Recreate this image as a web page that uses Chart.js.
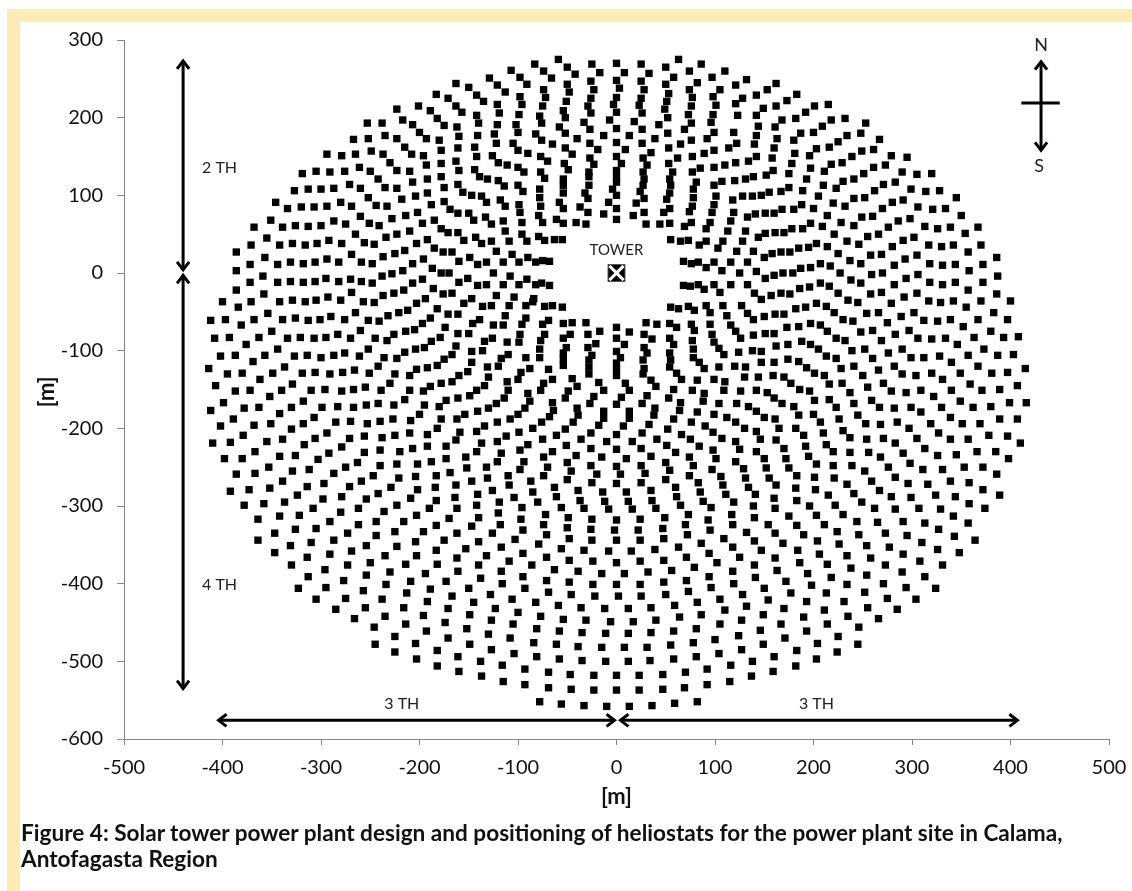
<!DOCTYPE html>
<html>
<head>
<meta charset="utf-8">
<title>Heliostat field</title>
<script src="https://cdn.jsdelivr.net/npm/chart.js@4/dist/chart.umd.min.js"></script>
<style>
  html, body { margin: 0; padding: 0; background: #fff; overflow: hidden; }
  #page { position: relative; width: 1132px; height: 891px; font-family: Lato, sans-serif; }
  .band { position: absolute; background: #ffebb5; }
  #top { left: 7px; top: 9px; width: 1125px; height: 13px; }
  #left { left: 7px; top: 9px; width: 13px; height: 882px; }
  canvas { position: absolute; left: 0; top: 0; }
  #caption { position: absolute; left: 21px; top: 820px; font-weight: 700; font-size: 22.6px; line-height: 26px; color: #111; white-space: nowrap; }
</style>
</head>
<body>
<div id="page">
  <div class="band" id="top"></div>
  <div class="band" id="left"></div>
  <canvas id="field" width="1132" height="891"></canvas>
  <div id="caption">Figure 4: Solar tower power plant design and positioning of heliostats for the power plant site in Calama,<br>Antofagasta Region</div>
</div>
<script>
// heliostat positions in metres, [x, y]
const fieldNorth = [[-59,275],[63,275],[-83,269],[-25,269],[0,270],[25,269],[50,265],[86,269],[-50,265],[-74,260],[-107,261],[-17,258],[8,258],[33,257],[74,260],[110,260],[-42,256],[-98,252],[-66,251],[-129,251],[58,252],[97,252],[-26,247],[0,248],[25,247],[-50,243],[50,243],[82,245],[-91,243],[-121,242],[-163,244],[121,242],[-150,239],[-74,236],[-23,236],[3,238],[28,236],[74,236],[105,236],[-113,233],[-48,233],[53,231],[-183,230],[-142,229],[-98,227],[-72,226],[-26,225],[0,226],[25,225],[77,226],[98,227],[-171,225],[-135,221],[-51,221],[51,221],[121,218],[-121,217],[-96,217],[-3,217],[23,216],[101,216],[76,215],[-201,215],[-163,215],[-75,215],[-29,215],[-189,209],[-157,207],[-119,206],[-99,204],[-54,209],[49,211],[-26,206],[0,207],[26,206],[73,204],[98,204],[123,203],[-142,203],[-78,202],[-52,200],[52,200],[-182,199],[-217,197],[-140,193],[-76,193],[-33,194],[-7,197],[18,195],[76,193],[96,194],[-207,191],[-175,190],[-121,191],[-102,191],[43,191],[-162,188],[-58,188],[-27,185],[0,186],[26,185],[69,185],[-200,181],[-100,181],[-52,180],[52,180],[99,181],[119,181],[-160,176],[-141,177],[-124,179],[-82,179],[-13,177],[13,177],[92,173],[-193,173],[-40,173],[39,173],[-76,171],[76,171],[-180,171],[-122,167],[-105,167],[-65,166],[-27,167],[0,168],[26,167],[65,166],[122,167],[-215,162],[-161,161],[-144,162],[-178,158],[-100,158],[-52,161],[-19,159],[9,159],[53,161],[99,158],[114,161],[-90,154],[-45,153],[35,155],[89,154],[-208,153],[-196,151],[-142,150],[-126,151],[-77,150],[77,150],[-27,148],[0,150],[27,148],[62,148],[-163,144],[-178,141],[-120,142],[-70,144],[-53,141],[-23,140],[5,141],[31,139],[53,141],[121,142],[-193,139],[-111,139],[-100,136],[110,139],[99,136],[85,135],[-144,133],[-160,132],[-210,131],[-77,130],[-49,133],[-94,130],[-28,130],[0,132],[27,130],[57,130],[77,130],[-178,124],[-139,124],[-192,121],[-131,121],[-120,119],[-73,122],[-54,121],[-28,124],[0,124],[28,121],[54,121],[107,118],[120,119],[-207,117],[-161,114],[-100,113],[-54,113],[-28,113],[0,117],[27,113],[55,113],[81,117],[99,113],[-175,110],[-114,112],[-4,108],[78,108],[-78,108],[-95,105],[-156,104],[24,105],[-32,103],[-54,103],[0,100],[54,103],[-192,103],[-147,100],[-137,99],[-204,99],[-218,95],[-78,97],[-29,96],[28,96],[51,95],[78,97],[101,99],[118,94],[-118,94],[-132,91],[-175,92],[-58,91],[-8,91],[20,90],[99,88],[-188,88],[-99,88],[-77,86],[-113,86],[-54,83],[0,83],[54,83],[77,86],[-169,82],[-37,85],[74,79],[-98,78],[-150,77],[-161,77],[-202,78],[-214,74],[-29,78],[28,78],[97,78],[119,78],[-79,74],[-133,72],[-13,76],[17,74],[48,78],[-185,68],[-61,69],[0,69],[-145,68],[-115,67],[-96,65],[-75,65],[-41,65],[-54,64],[-31,63],[30,63],[44,63],[54,64],[76,65],[95,65],[116,67],[-197,64],[-127,63],[69,60],[-178,57],[91,57],[-171,52],[-161,52],[-113,54],[-210,54],[113,54],[-96,50],[-79,47],[-143,46],[-63,43],[-73,42],[-55,43],[-155,42],[-192,43],[-127,41],[-109,41],[-91,41],[55,43],[65,41],[73,42],[91,41],[108,41],[-137,38],[-203,38],[84,36],[-185,32],[103,32],[-215,29],[-176,27],[-167,27],[-122,28],[122,28],[-106,24],[-149,20],[-90,20],[-196,18],[-75,16],[-68,15],[-82,14],[-160,15],[-141,11],[-132,14],[-115,14],[-99,14],[-207,12],[68,15],[76,12],[83,14],[99,14],[91,7],[116,14],[107,3],[-187,6],[-217,3],[-178,0],[-170,0],[-125,0],[-108,-4],[-151,-7],[-91,-8],[-197,-8],[-160,-12],[-207,-13],[-141,-16],[-132,-15],[-115,-15],[-99,-15],[-82,-15],[-76,-13],[-68,-16],[68,-16],[75,-17],[83,-15],[99,-15],[116,-15],[89,-21],[105,-25],[-186,-20],[-216,-22],[-176,-27],[-167,-26],[-122,-29],[-194,-33],[-147,-33],[-104,-31],[-84,-33]];

const fieldNorthWest = [[-223,211],[-253,193],[-238,193],[-267,172],[-252,173],[-235,177],[-223,173],[-294,153],[-279,151],[-265,153],[-249,157],[-237,153],[-230,142],[-319,128],[-305,131],[-291,130],[-276,131],[-261,136],[-250,131],[-223,132],[-242,121],[-327,106],[-313,108],[-300,108],[-287,109],[-271,114],[-260,109],[-235,110],[-223,109],[-252,97],[-346,91],[-334,83],[-320,85],[-307,85],[-294,86],[-280,91],[-269,86],[-244,87],[-233,86],[-260,73],[-228,70],[-351,68],[-368,59],[-339,59],[-326,61],[-313,60],[-300,61],[-287,67],[-275,63],[-251,64],[-241,61],[-265,50],[-223,50],[-355,45],[-234,46],[-371,36],[-342,36],[-329,38],[-316,36],[-304,38],[-292,42],[-279,38],[-256,39],[-246,37],[-386,27],[-269,24],[-225,25],[-357,20],[-237,21],[-372,11],[-344,11],[-331,14],[-318,12],[-306,14],[-294,18],[-282,14],[-259,14],[-248,12],[-386,3],[-270,-8],[-359,-4],[-295,-7],[-238,-4],[-228,-1],[-372,-12],[-344,-12],[-331,-11],[-318,-12],[-306,-11],[-282,-11],[-259,-11],[-248,-13]];

const fieldNorthEast = [[132,249],[162,244],[153,236],[128,225],[142,229],[173,222],[183,230],[149,212],[162,215],[201,215],[215,217],[142,203],[192,207],[168,197],[182,199],[218,197],[232,199],[144,189],[161,188],[253,193],[209,189],[200,181],[187,180],[142,177],[248,180],[234,177],[180,171],[163,173],[267,172],[225,169],[140,166],[160,161],[216,162],[203,160],[181,154],[261,159],[249,157],[239,150],[196,151],[142,150],[134,144],[279,151],[295,149],[158,148],[178,141],[229,142],[218,140],[273,139],[261,136],[197,135],[159,132],[211,131],[251,128],[290,130],[305,127],[320,128],[139,124],[152,126],[131,121],[175,128],[241,121],[230,118],[193,121],[271,114],[283,117],[210,113],[223,109],[175,110],[167,105],[155,104],[147,100],[138,99],[128,99],[299,108],[314,105],[328,106],[189,106],[262,106],[205,99],[241,96],[252,97],[345,97],[280,91],[291,94],[220,90],[188,88],[232,86],[168,82],[180,82],[200,83],[270,83],[306,85],[321,82],[334,83],[160,77],[151,77],[141,76],[133,72],[214,74],[350,74],[249,72],[260,73],[298,70],[286,67],[228,65],[197,64],[178,57],[189,57],[241,61],[209,60],[313,60],[326,57],[339,59],[276,59],[367,59],[131,54],[151,51],[161,52],[170,52],[144,46],[221,50],[255,47],[266,50],[354,51],[291,42],[302,46],[128,41],[234,41],[203,38],[195,33],[185,32],[214,34],[246,37],[280,34],[317,36],[330,34],[342,36],[370,36],[139,28],[158,25],[167,27],[176,27],[150,20],[225,25],[357,27],[258,23],[269,24],[305,23],[386,20],[293,18],[237,16],[248,12],[318,12],[331,10],[344,11],[372,11],[133,14],[207,12],[187,6],[197,7],[282,10],[217,9],[125,0],[142,2],[169,0],[179,0],[160,-3],[151,-7],[227,0],[358,3],[259,-2],[270,0],[306,-2],[294,-7],[387,-4],[238,-9],[248,-13],[318,-12],[331,-15],[344,-12],[372,-12],[133,-15],[207,-13],[216,-17],[186,-20],[196,-18],[282,-15]];

const fieldEast = [[140,-26],[167,-26],[157,-29],[176,-27],[225,-26],[258,-27],[269,-25],[305,-26],[357,-22],[386,-27],[292,-31],[235,-35],[147,-34],[245,-38],[279,-39],[317,-36],[329,-38],[342,-36],[370,-36],[400,-36],[182,-46],[192,-44],[203,-39],[213,-43],[355,-44],[221,-51],[254,-52],[266,-51],[302,-51],[383,-51],[150,-56],[161,-53],[170,-53],[289,-56],[139,-60],[230,-60],[240,-62],[275,-64],[312,-61],[326,-62],[339,-60],[367,-60],[397,-60],[173,-70],[185,-69],[197,-65],[207,-67],[352,-69],[214,-75],[248,-76],[260,-74],[297,-74],[380,-75],[283,-79],[151,-78],[160,-78],[139,-80],[223,-84],[232,-87],[306,-84],[320,-85],[334,-84],[363,-83],[393,-83],[408,-82],[269,-87],[188,-88],[197,-92],[162,-94],[174,-92],[346,-92],[205,-98],[239,-100],[252,-98],[290,-98],[373,-98],[138,-100],[147,-101],[276,-103],[213,-107],[223,-110],[260,-110],[299,-109],[312,-109],[328,-107],[357,-106],[387,-106],[403,-105],[174,-111],[185,-114],[147,-115],[160,-115],[340,-115],[193,-122],[228,-123],[241,-120],[282,-120],[367,-120],[415,-123],[266,-125],[201,-129],[211,-132],[159,-132],[144,-134],[170,-134],[290,-130],[304,-132],[320,-129],[349,-129],[381,-129],[397,-128],[250,-132],[331,-137],[177,-142],[216,-143],[229,-142],[271,-142],[359,-143],[407,-145],[186,-150],[196,-152],[142,-151],[153,-154],[255,-147],[279,-152],[294,-154],[309,-151],[340,-151],[371,-151],[389,-150],[237,-154],[322,-159],[160,-161],[201,-164],[216,-163],[259,-164],[349,-165],[399,-167],[416,-167],[168,-168],[241,-168],[180,-172],[223,-173],[267,-173],[282,-174],[299,-173],[330,-173],[362,-173],[380,-172],[142,-178],[309,-179],[185,-183],[200,-182],[245,-183],[150,-186],[161,-188],[226,-188],[339,-186],[389,-188],[407,-188],[207,-192],[253,-194],[268,-195],[285,-192],[319,-194],[351,-194],[369,-194],[165,-200],[182,-200],[297,-200],[230,-203],[142,-204],[210,-206],[190,-209],[327,-206],[378,-209],[397,-210],[146,-214],[162,-215],[237,-212],[254,-214],[271,-213],[305,-213],[339,-214],[357,-214],[410,-219],[192,-223],[213,-221],[283,-219],[170,-226],[142,-230],[220,-230],[237,-231],[256,-231],[291,-232],[313,-226],[366,-230],[385,-230],[326,-235],[345,-234],[150,-239],[172,-239],[195,-236],[268,-237],[398,-239],[203,-246],[220,-248],[239,-248],[298,-245],[152,-251],[175,-251],[276,-250],[353,-250],[372,-250],[311,-253],[331,-253],[252,-255],[183,-261],[201,-263],[221,-264],[283,-263],[386,-259],[155,-264],[259,-268],[339,-268],[358,-270],[296,-271],[316,-272],[234,-272],[162,-273],[182,-277],[202,-279],[267,-280],[372,-279],[141,-285],[241,-284],[215,-286],[279,-288],[299,-289],[324,-286],[344,-288],[389,-286],[160,-290],[183,-293],[249,-295],[358,-297],[139,-300],[161,-303],[196,-300],[222,-299],[262,-303],[283,-304],[307,-303],[329,-304],[374,-303],[364,-344]];

const fieldCentre = [[-136,-43],[-127,-42],[-109,-42],[-92,-42],[-85,-37],[-73,-43],[-65,-42],[-55,-44],[55,-44],[63,-46],[73,-43],[79,-48],[91,-42],[95,-51],[108,-42],[127,-42],[-113,-55],[133,-52],[112,-55],[-92,-58],[-69,-61],[-96,-66],[-75,-66],[-54,-65],[-45,-64],[-31,-64],[-125,-67],[-115,-67],[0,-70],[30,-64],[41,-66],[54,-65],[61,-70],[76,-66],[95,-66],[116,-67],[-139,-60],[79,-74],[121,-75],[-17,-75],[13,-76],[-98,-79],[-73,-79],[-47,-79],[-29,-79],[28,-79],[97,-79],[-126,-84],[-54,-84],[-77,-87],[0,-84],[36,-85],[54,-84],[77,-87],[126,-84],[-134,-88],[-111,-89],[-99,-89],[-21,-91],[8,-92],[58,-92],[99,-89],[-136,-100],[-78,-98],[-51,-96],[-29,-96],[28,-96],[78,-98],[104,-97],[124,-102],[-110,-105],[-25,-106],[31,-103],[54,-103],[109,-105],[-117,-110],[-92,-109],[-78,-109],[-54,-103],[-54,-111],[-54,-119],[-28,-112],[4,-109],[0,-101],[27,-112],[55,-112],[78,-109],[84,-115],[-131,-121],[-120,-120],[-88,-123],[-69,-124],[0,-116],[0,-124],[0,-132],[-28,-121],[-28,-130],[28,-123],[27,-130],[54,-121],[89,-123],[104,-121],[120,-120],[131,-121],[-97,-128],[61,-129],[66,-137],[-100,-137],[-130,-134],[-65,-137],[-45,-136],[130,-134],[99,-137],[82,-138],[110,-140],[-111,-140],[-18,-141],[9,-142],[35,-138],[-134,-145],[-74,-142],[-40,-146],[40,-146],[58,-150],[77,-151],[109,-151],[126,-152],[-110,-151],[-77,-151],[-13,-151],[13,-151],[-49,-152],[89,-155],[-90,-155],[31,-158],[-23,-159],[5,-160],[-52,-161],[-114,-161],[53,-161],[65,-167],[88,-165],[104,-168],[122,-168],[-88,-165],[-122,-168],[-65,-167],[-27,-168],[0,-169],[26,-168],[134,-172],[-130,-174],[-93,-174],[-40,-174],[39,-174],[-64,-177],[64,-177],[82,-179],[-13,-178],[13,-178],[-100,-182],[-39,-183],[-13,-187],[13,-187],[38,-183],[99,-182],[112,-186],[-108,-188],[-68,-185],[58,-188],[-76,-192],[-44,-192],[76,-192],[121,-192],[-121,-192],[-134,-197],[-18,-196],[7,-197],[33,-195],[-85,-200],[-52,-201],[90,-197],[130,-200],[52,-201],[-99,-205],[-26,-206],[26,-206],[98,-205],[-61,-209],[-112,-210],[0,-208],[66,-208],[-75,-214],[-36,-214],[41,-214],[75,-214],[107,-213],[-10,-217],[16,-217],[-121,-217],[121,-217],[-137,-219],[-51,-222],[-90,-221],[51,-222],[84,-223],[-26,-226],[25,-226],[0,-227],[-98,-228],[-65,-230],[98,-228],[125,-227],[60,-231],[-117,-232],[-41,-235],[-74,-237],[35,-236],[74,-237],[-15,-237],[101,-239],[10,-239],[-94,-243],[-121,-243],[-50,-244],[50,-244],[121,-243],[-132,-250],[-70,-250],[-26,-248],[0,-249],[25,-248],[78,-248],[-98,-253],[97,-253],[129,-252],[-46,-255],[54,-254],[-20,-259],[4,-259],[29,-258],[-110,-261],[-74,-261],[74,-261],[106,-262],[-131,-264],[-50,-266],[50,-266],[131,-264],[-87,-268],[-25,-270],[0,-271],[25,-270],[83,-270],[-109,-273],[60,-276],[108,-273],[134,-276],[-126,-280],[-63,-276],[-39,-280],[-85,-282],[-14,-282],[10,-282],[35,-280],[85,-282],[111,-285],[61,-288],[-61,-288],[-104,-289],[-37,-293],[-12,-294],[12,-294],[36,-293],[88,-294],[-119,-295],[-80,-295],[119,-295],[65,-299],[-56,-302],[-96,-302],[96,-302],[-33,-303],[-8,-304],[16,-304],[40,-303]];

const fieldWest = [[-386,-22],[-358,-27],[-269,-25],[-237,-29],[-226,-26],[-400,-37],[-371,-37],[-342,-37],[-329,-35],[-316,-37],[-305,-35],[-293,-31],[-280,-35],[-257,-37],[-246,-38],[-384,-44],[-203,-39],[-182,-46],[-155,-39],[-354,-52],[-265,-51],[-232,-55],[-221,-51],[-212,-48],[-189,-58],[-171,-53],[-161,-53],[-412,-61],[-397,-60],[-368,-60],[-339,-60],[-326,-58],[-313,-61],[-301,-60],[-290,-56],[-276,-60],[-252,-61],[-241,-62],[-197,-65],[-146,-65],[-381,-67],[-350,-75],[-260,-74],[-174,-70],[-226,-79],[-214,-75],[-205,-73],[-408,-84],[-393,-83],[-363,-83],[-334,-84],[-321,-83],[-307,-84],[-295,-83],[-283,-79],[-270,-84],[-245,-84],[-233,-87],[-188,-88],[-179,-83],[-161,-78],[-150,-78],[-376,-92],[-163,-94],[-252,-98],[-344,-98],[-215,-102],[-204,-98],[-195,-96],[-147,-101],[-402,-107],[-387,-106],[-357,-106],[-327,-107],[-314,-106],[-300,-109],[-287,-106],[-276,-103],[-261,-107],[-236,-109],[-223,-110],[-167,-105],[-175,-111],[-369,-114],[-147,-115],[-242,-120],[-337,-121],[-414,-123],[-203,-124],[-192,-122],[-182,-119],[-395,-130],[-380,-129],[-349,-129],[-319,-129],[-306,-128],[-291,-130],[-278,-128],[-266,-125],[-251,-129],[-225,-130],[-210,-132],[-160,-132],[-151,-127],[-362,-137],[-230,-142],[-329,-143],[-407,-145],[-189,-146],[-178,-142],[-167,-140],[-387,-152],[-372,-151],[-340,-151],[-310,-151],[-296,-150],[-279,-152],[-267,-150],[-255,-147],[-239,-151],[-210,-151],[-196,-152],[-142,-151],[-352,-159],[-149,-158],[-318,-165],[-215,-163],[-161,-161],[-173,-164],[-399,-167],[-378,-174],[-363,-173],[-330,-173],[-299,-173],[-283,-172],[-267,-173],[-254,-170],[-242,-168],[-226,-170],[-195,-170],[-180,-172],[-412,-177],[-342,-181],[-141,-178],[-200,-182],[-154,-182],[-307,-186],[-389,-188],[-318,-194],[-178,-188],[-162,-188],[-209,-190],[-227,-188],[-240,-191],[-270,-191],[-285,-192],[-253,-194],[-368,-196],[-351,-194],[-402,-197],[-330,-201],[-182,-200],[-379,-209],[-294,-206],[-306,-213],[-339,-214],[-159,-205],[-142,-204],[-256,-210],[-238,-212],[-225,-209],[-210,-206],[-192,-208],[-271,-213],[-410,-219],[-392,-218],[-355,-217],[-317,-221],[-279,-224],[-163,-215],[-367,-230],[-207,-226],[-192,-223],[-173,-223],[-220,-230],[-240,-228],[-256,-231],[-292,-232],[-342,-236],[-326,-235],[-142,-230],[-398,-239],[-380,-239],[-303,-240],[-263,-244],[-153,-237],[-173,-239],[-188,-243],[-240,-248],[-223,-246],[-202,-246],[-275,-250],[-353,-250],[-152,-251],[-386,-259],[-367,-258],[-329,-255],[-312,-253],[-287,-258],[-247,-261],[-169,-257],[-183,-261],[-204,-262],[-221,-264],[-339,-268],[-259,-268],[-297,-271],[-147,-268],[-392,-281],[-373,-279],[-352,-277],[-314,-275],[-271,-275],[-229,-276],[-202,-279],[-184,-276],[-163,-273],[-324,-286],[-242,-284],[-279,-288],[-141,-285],[-298,-291],[-254,-291],[-209,-290],[-183,-293],[-164,-289],[-378,-299],[-358,-297],[-337,-295],[-223,-299],[-142,-299],[-308,-303],[-262,-303],[-190,-303],[-162,-303],[-364,-317],[-364,-344]];

const fieldSouthWest = [[-280,-308],[-236,-307],[-342,-313],[-322,-312],[-203,-312],[-170,-316],[-140,-315],[-120,-309],[-97,-317],[-72,-311],[-291,-320],[-244,-320],[-216,-320],[-262,-324],[-183,-325],[-147,-326],[-118,-324],[-74,-324],[-326,-330],[-305,-329],[-95,-331],[-347,-335],[-273,-335],[-225,-333],[-196,-333],[-162,-335],[-126,-335],[-71,-337],[-244,-338],[-287,-344],[-175,-344],[-103,-343],[-310,-347],[-204,-346],[-140,-346],[-79,-349],[-331,-351],[-254,-351],[-223,-352],[-117,-353],[-153,-355],[-183,-357],[-347,-360],[-269,-358],[-95,-361],[-235,-364],[-203,-364],[-132,-364],[-314,-366],[-291,-362],[-162,-367],[-71,-366],[-250,-373],[-109,-371],[-330,-376],[-273,-376],[-214,-375],[-182,-375],[-140,-376],[-86,-376],[-296,-382],[-230,-385],[-161,-384],[-117,-384],[-194,-387],[-254,-389],[-313,-391],[-138,-393],[-95,-391],[-173,-397],[-277,-396],[-209,-397],[-116,-400],[-71,-396],[-234,-401],[-323,-406],[-295,-405],[-257,-409],[-189,-407],[-150,-406],[-93,-406],[-213,-412],[-69,-411],[-128,-414],[-167,-416],[-305,-420],[-275,-419],[-238,-420],[-192,-423],[-145,-424],[-106,-420],[-82,-424],[-285,-433],[-255,-431],[-216,-431],[-171,-432],[-123,-432],[-266,-445],[-235,-442],[-196,-441],[-149,-440],[-100,-437],[-77,-442],[-246,-456],[-214,-452],[-127,-447],[-174,-450],[-105,-452],[-81,-458],[-152,-458],[-193,-461],[-225,-468],[-130,-465],[-171,-470],[-108,-470],[-245,-478],[-204,-477],[-149,-478],[-84,-476],[-182,-486],[-127,-485],[-225,-488],[-104,-490],[-203,-497],[-161,-494],[-81,-494],[-138,-500],[-182,-506],[-116,-505],[-160,-513],[-93,-510],[-137,-519],[-69,-514],[-115,-526],[-93,-530],[-69,-534],[-78,-552]];

const fieldSouth = [[-49,-315],[-25,-317],[0,-318],[24,-317],[49,-315],[73,-311],[93,-318],[117,-311],[140,-315],[175,-313],[203,-312],[230,-311],[244,-320],[265,-321],[291,-320],[313,-322],[342,-313],[357,-322],[-50,-328],[-26,-330],[-2,-331],[22,-331],[47,-329],[70,-324],[118,-324],[95,-331],[154,-324],[183,-325],[211,-324],[327,-330],[132,-334],[161,-335],[190,-337],[224,-333],[246,-337],[273,-335],[295,-338],[343,-339],[-48,-342],[-25,-344],[0,-344],[24,-344],[48,-342],[72,-337],[109,-342],[140,-345],[204,-345],[310,-347],[-56,-355],[-33,-357],[-8,-358],[15,-358],[39,-356],[63,-353],[86,-348],[118,-353],[169,-348],[226,-349],[254,-351],[277,-353],[326,-356],[348,-360],[94,-361],[147,-357],[184,-357],[206,-362],[234,-364],[291,-362],[-48,-370],[-24,-371],[0,-373],[24,-371],[48,-370],[71,-366],[125,-366],[161,-367],[258,-367],[308,-371],[102,-373],[186,-373],[214,-375],[140,-376],[238,-380],[273,-376],[331,-376],[-63,-382],[-39,-384],[-15,-387],[8,-387],[32,-385],[56,-383],[79,-379],[118,-384],[163,-383],[194,-387],[290,-385],[94,-391],[141,-392],[218,-392],[254,-389],[313,-391],[-48,-398],[-24,-401],[0,-401],[24,-401],[48,-398],[71,-396],[119,-400],[172,-397],[198,-402],[234,-401],[271,-400],[324,-406],[294,-405],[-46,-414],[-22,-416],[2,-416],[25,-416],[50,-414],[73,-410],[96,-405],[150,-406],[128,-414],[177,-412],[213,-412],[252,-411],[105,-420],[82,-424],[154,-421],[193,-423],[231,-423],[275,-419],[304,-420],[-59,-428],[-36,-431],[-12,-432],[12,-432],[35,-431],[59,-428],[132,-429],[170,-432],[211,-434],[255,-431],[285,-433],[110,-434],[86,-440],[149,-440],[190,-443],[235,-442],[266,-445],[-54,-446],[-31,-447],[-6,-449],[17,-449],[40,-447],[64,-443],[127,-447],[105,-452],[167,-452],[214,-452],[246,-456],[-58,-461],[-35,-463],[-11,-464],[12,-464],[35,-463],[58,-461],[81,-458],[146,-460],[193,-461],[124,-467],[100,-472],[171,-470],[225,-468],[245,-478],[-61,-478],[-39,-481],[-15,-482],[8,-482],[31,-482],[55,-479],[78,-476],[149,-478],[204,-477],[104,-490],[127,-485],[183,-486],[224,-488],[-58,-497],[-35,-499],[-11,-500],[12,-500],[34,-499],[58,-497],[81,-494],[160,-494],[203,-497],[116,-505],[138,-500],[182,-506],[92,-510],[159,-513],[-47,-517],[-23,-518],[0,-518],[23,-518],[47,-517],[70,-514],[137,-519],[115,-526],[92,-530],[-46,-536],[-23,-537],[0,-537],[23,-537],[47,-536],[69,-534],[-56,-555],[-33,-557],[-10,-558],[13,-558],[36,-557],[59,-554],[82,-552]];

const towerPoint = [[0, 0]];
const xTicks = [-500, -400, -300, -200, -100, 0, 100, 200, 300, 400, 500];
const yTicks = [300, 200, 100, 0, -100, -200, -300, -400, -500, -600];

// dimension arrows and compass, [x1, y1, x2, y2, head at start, head at end]
const arrows = [
    [-440, 273, -440, 4, true, true],
    [-440, -3, -440, -535, true, true],
    [-404, -576, -2, -576, true, true],
    [4, -576, 407, -576, true, true],
    [431, 272, 431, 158, true, true],
    [411, 219, 450, 219, false, false]
];
const notes = [
    ['2 TH', -403, 136, 16], ['4 TH', -403, -402, 16], ['3 TH', -218, -555, 16], ['3 TH', 203, -555, 16],
    ['TOWER', 0, 29, 15], ['N', 431, 293, 18], ['S', 429, 138, 18]
];
const axisTitles = { x: '[m]', y: '[m]' };

const allField = [fieldNorth, fieldNorthWest, fieldNorthEast, fieldEast, fieldCentre, fieldWest, fieldSouthWest, fieldSouth].flat();

const sketchPlugin = {
    id: 'sketch',
    afterDatasetsDraw(chart) {
        const { ctx, scales: { x, y } } = chart;
        ctx.save();
        ctx.strokeStyle = '#000';
        ctx.lineCap = 'butt';
        ctx.lineJoin = 'miter';
        arrows.forEach(a => {
            const x1 = x.getPixelForValue(a[0]), y1 = y.getPixelForValue(a[1]);
            const x2 = x.getPixelForValue(a[2]), y2 = y.getPixelForValue(a[3]);
            ctx.lineWidth = 3;
            ctx.beginPath(); ctx.moveTo(x1, y1); ctx.lineTo(x2, y2); ctx.stroke();
            const ang = Math.atan2(y2 - y1, x2 - x1);
            const head = (px, py, dir) => {
                ctx.beginPath();
                ctx.moveTo(px - 10 * Math.cos(dir - 0.65), py - 10 * Math.sin(dir - 0.65));
                ctx.lineTo(px, py);
                ctx.lineTo(px - 10 * Math.cos(dir + 0.65), py - 10 * Math.sin(dir + 0.65));
                ctx.stroke();
            };
            if (a[4]) head(x1, y1, ang + Math.PI);
            if (a[5]) head(x2, y2, ang);
        });

        ctx.fillStyle = '#222';
        ctx.textAlign = 'center';
        ctx.textBaseline = 'middle';
        notes.forEach(n => {
            ctx.font = n[3] + 'px Lato';
            ctx.fillText(n[0], x.getPixelForValue(n[1]), y.getPixelForValue(n[2]));
        });

        ctx.fillStyle = '#111';
        ctx.font = 'bold 22px Lato';
        ctx.fillText(axisTitles.x, x.getPixelForValue(0), 797);
        ctx.translate(47, y.getPixelForValue(-153));
        ctx.rotate(-Math.PI / 2);
        ctx.fillText(axisTitles.y, 0, 0);
        ctx.restore();
    }
};

new Chart(document.getElementById('field'), {
    type: 'scatter',
    plugins: [sketchPlugin],
    data: {
        datasets: [
            {
                label: 'Tower cross',
                order: 0,
                data: towerPoint.map(p => ({ x: p[0], y: p[1] })),
                pointStyle: 'crossRot',
                pointRadius: 10,
                pointBorderColor: '#fff',
                pointBorderWidth: 3
            },
            {
                label: 'Tower',
                order: 1,
                data: towerPoint.map(p => ({ x: p[0], y: p[1] })),
                pointStyle: 'rect',
                pointRadius: 12,
                pointBackgroundColor: '#000',
                pointBorderColor: '#555',
                pointBorderWidth: 1
            },
            {
                label: 'Heliostats',
                order: 2,
                data: allField.map(p => ({ x: p[0], y: p[1] })),
                pointStyle: 'rect',
                pointRadius: 5.2,
                pointHoverRadius: 5.2,
                pointBackgroundColor: '#000',
                pointBorderWidth: 0
            }
        ]
    },
    options: {
        responsive: false,
        animation: false,
        layout: { autoPadding: false, padding: { left: 0, top: 40, right: 23, bottom: 0 } },
        plugins: { legend: { display: false }, tooltip: { enabled: false } },
        scales: {
            x: {
                type: 'linear',
                min: -500,
                max: 500,
                afterFit(scale) {
                    // last tick label hangs past the axis, keep the plot width fixed anyway
                    scale.height = 152;
                    scale.paddingLeft = 0;
                    scale.paddingRight = 0;
                    scale._margins.left = 0;
                    scale._margins.right = 0;
                },
                afterBuildTicks(scale) { scale.ticks = xTicks.map(v => ({ value: v })); },
                grid: { drawOnChartArea: false, drawTicks: true, tickLength: 6, color: '#868686' },
                border: { color: '#868686' },
                ticks: { color: '#111', font: { family: 'Lato', size: 20 }, padding: 11, maxRotation: 0, autoSkip: false }
            },
            y: {
                type: 'linear',
                min: -600,
                max: 300,
                afterFit(scale) { scale.width = 124; },
                afterBuildTicks(scale) { scale.ticks = yTicks.map(v => ({ value: v })); },
                grid: { drawOnChartArea: false, drawTicks: true, tickLength: 7, color: '#868686' },
                border: { color: '#868686' },
                ticks: { color: '#111', font: { family: 'Lato', size: 20 }, padding: 14, autoSkip: false }
            }
        }
    }
});
</script>
</body>
</html>
